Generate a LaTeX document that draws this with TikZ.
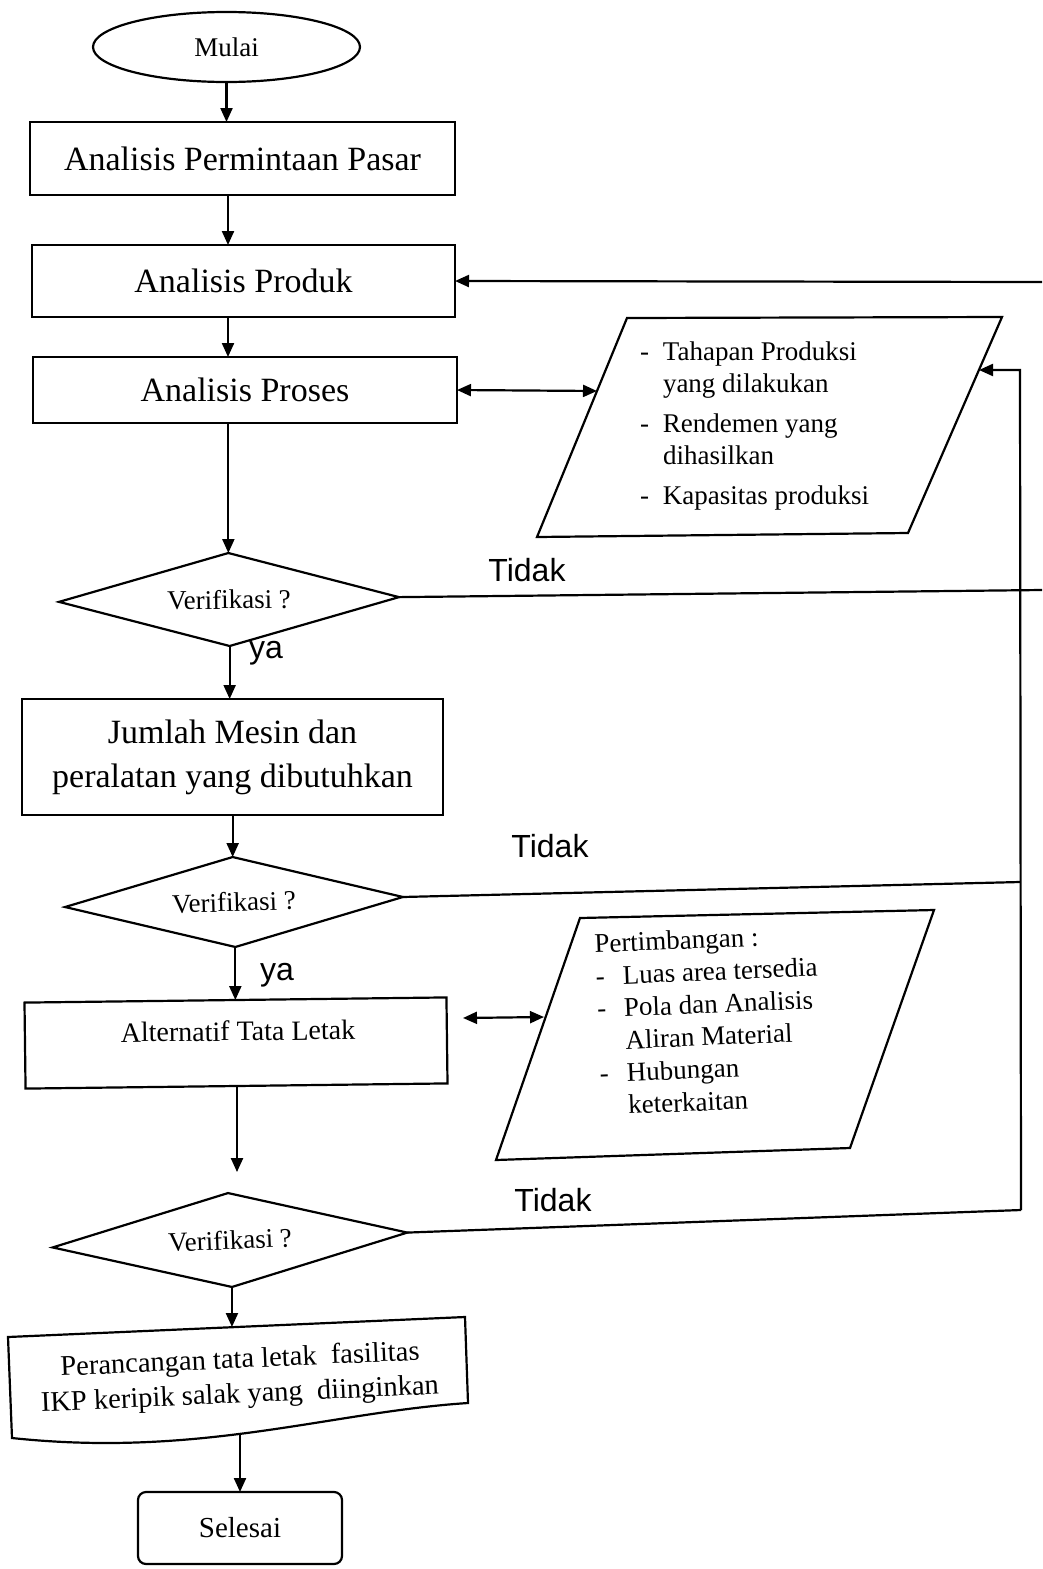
\documentclass[tikz,border=0pt]{standalone}
\usepackage{fontspec}
\setmainfont{Liberation Serif}
\newfontfamily\sansf{Liberation Sans}
\usetikzlibrary{shapes.geometric,arrows.meta,calc}
\begin{document}
\begin{tikzpicture}[x=1pt,y=-1pt,
  every node/.style={inner sep=0pt, outer sep=0pt},
  ln/.style={line width=2.2pt},
  arr/.style={ln, -{Triangle[length=14pt,width=12pt]}},
  dbl/.style={ln, {Triangle[length=14pt,width=12pt]}-{Triangle[length=14pt,width=12pt]}},
  procbox/.style={draw, ln, rectangle, align=center},
  decis/.style={draw, ln, diamond, aspect=3.7, font=\fontsize{27}{32}\selectfont},
  bigtext/.style={font=\fontsize{34}{44}\selectfont},
  lbl/.style={font=\sansf\fontsize{32}{36}\selectfont},
  listtext/.style={align=left, font=\fontsize{27}{32}\selectfont},
]
\useasboundingbox[fill=white] (0,0) rectangle (1042,1569);

% main column
\node[draw, ln, ellipse, minimum width=267pt, minimum height=70pt, font=\fontsize{27}{32}\selectfont] (start) at (226.5,47) {Mulai};
\node[procbox, bigtext, minimum width=425pt, minimum height=73pt] (b1) at (242.5,158.5) {Analisis Permintaan Pasar};
\node[procbox, bigtext, minimum width=423pt, minimum height=72pt] (b2) at (243.5,281) {Analisis Produk};
\node[procbox, bigtext, minimum width=424pt, minimum height=66pt] (b3) at (245,390) {Analisis Proses};
\node[decis, minimum width=340pt, minimum height=93pt, rotate=0.8] (d1) at (229,599.5) {Verifikasi ?};
\node[procbox, bigtext, minimum width=421pt, minimum height=116pt] (b4) at (232.5,757) {Jumlah Mesin dan\\peralatan yang dibutuhkan};
\node[decis, minimum width=338pt, minimum height=90pt, rotate=1.7] (d2) at (234,902) {Verifikasi ?};
\node[procbox, minimum width=422pt, minimum height=86pt, rotate=0.7] (b5) at (236,1043) {};
\node[font=\fontsize{28}{32}\selectfont, rotate=0.7] (t5) at (238,1031) {Alternatif Tata Letak};
\node[decis, minimum width=355pt, minimum height=94pt, rotate=2.4] (d3) at (230,1240) {Verifikasi ?};

% document shape
\draw[ln] (8,1337) -- (465,1317) -- (468,1403) .. controls (330,1412) and (200,1458) .. (12,1438) -- cycle;
\coordinate (dtop) at (240,1327);
\coordinate (dbot) at (240,1434);
\node[font=\fontsize{28.5}{34}\selectfont, rotate=2.5] (t6a) at (240,1361) {Perancangan tata letak\ \ fasilitas};
\node[font=\fontsize{28.5}{34}\selectfont, rotate=2.5] (t6b) at (240,1396) {IKP keripik salak yang\ \ diinginkan};
\node[draw, ln, rounded corners=8pt, minimum width=204pt, minimum height=72pt, font=\fontsize{29}{32}\selectfont] (end) at (240,1528) {Selesai};

% parallelogram 1
\draw[ln] (627,318) -- (1002,317) -- (908,533) -- (537,537) -- cycle;
\coordinate (p1l) at (597,391);
\coordinate (p1r) at (979,370);
\node[listtext, anchor=north west] (t1) at (640,342) {\makebox[23pt][l]{-}Tahapan Produksi\\
\hspace*{23pt}yang dilakukan\\[8pt]
\makebox[23pt][l]{-}Rendemen yang\\
\hspace*{23pt}dihasilkan\\[8pt]
\makebox[23pt][l]{-}Kapasitas produksi};

% parallelogram 2
\draw[ln] (580,918) -- (934,910) -- (850,1148) -- (496,1160) -- cycle;
\coordinate (p2l) at (544,1017);
\coordinate (a2l) at (463,1018);
\node[listtext, anchor=north west, rotate=2.4, font=\fontsize{27}{32.5}\selectfont] (t2) at (594,934) {Pertimbangan :\\
\makebox[27pt][l]{-}Luas area tersedia\\
\makebox[27pt][l]{-}Pola dan Analisis\\
\hspace*{27pt}Aliran Material\\
\makebox[27pt][l]{-}Hubungan\\
\hspace*{27pt}keterkaitan};

% connectors
\coordinate (cx) at (228,0);
\coordinate (cx2) at (237,0);
\draw[arr] (start.south) -- (start.south |- b1.north);
\draw[arr] (b1.south -| cx) -- (b2.north -| cx);
\draw[arr] (b2.south -| cx) -- (b3.north -| cx);
\draw[arr] (b3.south -| d1.north) -- (d1.north);
\draw[dbl] (b3.east) -- (p1l);
\coordinate (r1) at (1042,282);
\draw[arr] (r1) -- (b2.east);
\coordinate (r2) at (1042,590);
\draw[ln] (d1.east) -- (r2);
\node[lbl] (tid1) at (527,570) {Tidak};
\draw[arr] (d1.south) -- (d1.south |- b4.north);
\node[lbl] (ya1) at (266,653) {ya};
\draw[arr] (b4.south -| d2.north) -- (d2.north);
\coordinate (rj2) at (1020,882);
\draw[ln] (d2.east) -- (rj2);
\node[lbl] (tid2) at (550,846) {Tidak};
\draw[arr] (d2.south) -- (d2.south |- b5.north);
\node[lbl] (ya2) at (277,975) {ya};
\draw[dbl] (a2l) -- (p2l);
\draw[arr, shorten >=21pt] (b5.south -| cx2) -- (d3.north -| cx2);
\coordinate (rj3) at (1021,1210);
\coordinate (rtop) at (1020,370);
\draw[ln] (d3.east) -- (rj3);
\draw[arr] (rj3) -- (rtop) -- (p1r);
\node[lbl] (tid3) at (553,1200) {Tidak};
\draw[arr] (d3.south) -- (d3.south |- dtop);
\draw[arr] (dbot) -- (end.north);
\end{tikzpicture}
\end{document}
